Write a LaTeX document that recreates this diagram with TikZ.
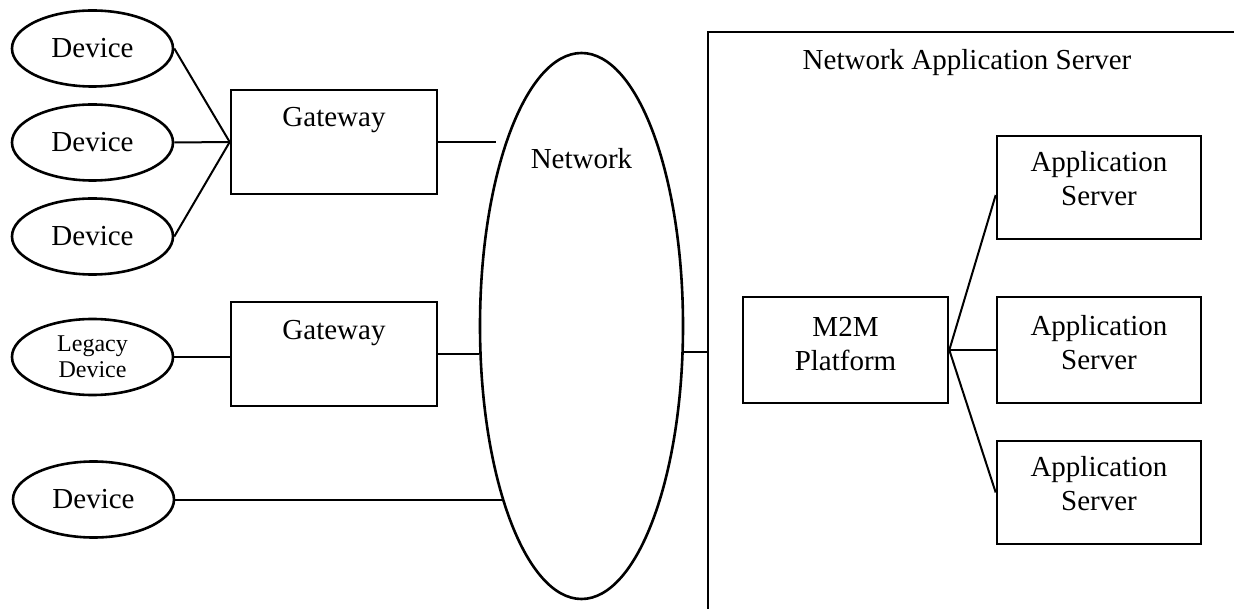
\documentclass[tikz,border=0pt]{standalone}
\usepackage{fontspec}
\setmainfont{Liberation Serif}
\usetikzlibrary{shapes.geometric}
\begin{document}
\begin{tikzpicture}[x=1pt,y=-1pt,
  shp/.style={draw, line width=2.6pt, inner sep=0pt},
  dev/.style={shp, ellipse, minimum width=161pt, minimum height=76pt, font=\fontsize{29}{34}\selectfont},
  box/.style={shp, rectangle, minimum width=206pt, minimum height=104pt},
  lbl/.style={anchor=base, align=center, font=\fontsize{29}{34}\selectfont},
  conn/.style={line width=2pt}]
\useasboundingbox (0,0) rectangle (1234,609);

% devices
\node[dev] (d1) at (92.5,48.5) {Device};
\node[dev] (d2) at (92.5,142.5) {Device};
\node[dev] (d3) at (92.5,236.5) {Device};
\node[dev, font=\fontsize{24}{26}\selectfont, align=center] (leg) at (92.5,357) {Legacy\\Device};
\node[dev] (d5) at (93.5,499.5) {Device};

% gateways
\node[box, label={[lbl,yshift=-38pt]north:Gateway}] (gw1) at (334,142) {};
\node[box, label={[lbl,yshift=-39pt]north:Gateway}] (gw2) at (334,354) {};

% network
\node[shp, ellipse, minimum width=203pt, minimum height=546pt,
      label={[lbl,yshift=-117pt]north:Network}] (net) at (581.5,326) {};

% network application server frame
\coordinate (nasTR) at (1240,32);
\coordinate (nasTL) at (708,32);
\coordinate (nasBL) at (708,615);
\draw[line width=2.6pt] (nasTR) -- (nasTL) -- (nasBL);
\node[lbl] (nastitle) at (967,70) {Network Application Server};

% platform and servers (label base = last line baseline)
\node[box, minimum width=205pt, minimum height=106pt,
      label={[lbl,yshift=-75pt]north:M2M\\Platform}] (m2m) at (845.5,350) {};
\node[box, minimum width=204pt, minimum height=103pt,
      label={[lbl,yshift=-71pt]north:Application\\Server}] (as1) at (1099,187.5) {};
\node[box, minimum width=204pt, minimum height=106pt,
      label={[lbl,yshift=-74pt]north:Application\\Server}] (as2) at (1099,350) {};
\node[box, minimum width=204pt, minimum height=103pt,
      label={[lbl,yshift=-71pt]north:Application\\Server}] (as3) at (1099,492.5) {};

% connectors
\draw[conn] (d1.east) -- (gw1.west);
\draw[conn] (d2.east) -- (gw1.west);
\draw[conn] (d3.east) -- (gw1.west);
\draw[conn] (leg.east) -- (leg.east -| gw2.west);
\coordinate (n1) at (496,144);
\draw[conn] (gw1.east) -- (gw1.east -| n1);
\draw[conn] (gw2.east) -- (gw2.east -| net.west);
\coordinate (n5) at (503.5,500);
\draw[conn] (d5.east) -- (d5.east -| n5);
\coordinate (nasin) at (708,352);
\draw[conn] (nasin -| net.east) -- (nasin);
\draw[conn] (m2m.east) -- ([yshift=-7.5pt]as1.west);
\draw[conn] (m2m.east) -- (as2.west);
\draw[conn] (m2m.east) -- (as3.west);
\end{tikzpicture}
\end{document}
